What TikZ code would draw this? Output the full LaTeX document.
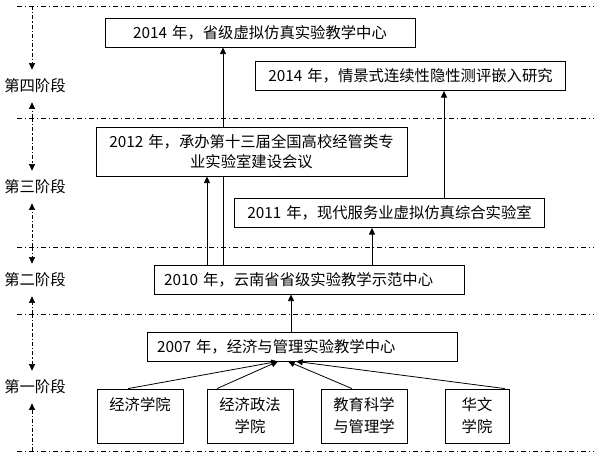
\documentclass[tikz,border=0pt]{standalone}
\usepackage{fontspec}
\setmainfont{Noto Sans CJK SC}
\usetikzlibrary{arrows.meta}

\begin{document}
\begin{tikzpicture}[
      x=0.75pt, y=-0.75pt,
      every node/.style={font=\fontsize{11.5}{15}\selectfont},
      eventbox/.style={
        rectangle, draw, line width=0.6pt, fill=white,
        inner xsep=7.5pt, inner ysep=0pt,
        text width=217.5pt, minimum height=21.75pt, align=center
      },
      unitbox/.style={
        rectangle, draw, line width=0.6pt, fill=white, inner sep=0pt,
        minimum width=64.5pt, minimum height=40.5pt,
        align=center, font=\fontsize{11.5}{16.5}\selectfont
      },
      stagelabel/.style={inner sep=0pt, minimum height=24pt},
      divider/.style={line width=0.5pt, dash pattern=on 4pt off 2pt on 1pt off 2pt},
      arr/.style={-{Triangle[length=5pt,width=4.5pt]}, line width=0.6pt},
      stagearr/.style={-{Triangle[length=5pt,width=4.5pt]}, line width=0.5pt,
        dash pattern=on 3pt off 1.5pt on 1pt off 1.5pt}
    ]
    \useasboundingbox (0,0) rectangle (594,458);

    % ===== Stage dividers =====
    \draw[divider] (17,6) -- (594,6);
    \draw[divider] (17,118) -- (594,118);
    \draw[divider] (17,247) -- (594,247);
    \draw[divider] (17,314) -- (594,314);
    \draw[divider] (17,451) -- (594,451);

    \coordinate (lvl4) at (32,6);
    \coordinate (lvl3) at (32,118);
    \coordinate (lvl2) at (32,247);
    \coordinate (lvl1) at (32,314);
    \coordinate (lvl0) at (32,451);

    % ===== Stage labels =====
    \node[stagelabel] (s4) at (35,86) {第四阶段};
    \node[stagelabel] (s3) at (35,187) {第三阶段};
    \node[stagelabel] (s2) at (35,280) {第二阶段};
    \node[stagelabel] (s1) at (35,387) {第一阶段};

    % ===== Events, stage four down to stage one =====
    \node[eventbox] (n2014a) at (260,32.5) {2014 年，省级虚拟仿真实验教学中心};
    \node[eventbox] (n2014b) at (410.5,76) {2014 年，情景式连续性隐性测评嵌入研究};
    \node[eventbox, inner xsep=4pt, text width=225.25pt, minimum height=36.75pt]
      (n2012) at (251.5,151.5)
      {2012 年，承办第十三届全国高校经管类专\\业实验室建设会议};
    \node[eventbox] (n2011) at (389.5,213) {2011 年，现代服务业虚拟仿真综合实验室};
    \node[eventbox, align=left] (n2010) at (309,279.5) {2010 年，云南省省级实验教学示范中心};
    \node[eventbox, align=left] (n2007) at (302,346.5) {2007 年，经济与管理实验教学中心};

    % ===== Founding schools =====
    \node[unitbox] (jj) at (140,416) {经济学院\\\phantom{学院}};
    \node[unitbox] (jz) at (250,416) {经济政法\\学院};
    \node[unitbox] (jy) at (364,416) {教育科学\\与管理学};
    \node[unitbox, minimum width=48pt] (hw) at (477,416) {华文\\学院};

    % ===== Connector columns =====
    \coordinate (colA) at (207,0);
    \coordinate (colB) at (223,0);
    \coordinate (colC) at (291,0);
    \coordinate (colD) at (372,0);
    \coordinate (colE) at (444,0);

    % ===== Stage arrows =====
    \draw[stagearr] (lvl4) -- (s4.north -| lvl4);
    \draw[stagearr] (lvl3) -- (s4.south -| lvl3);
    \draw[stagearr] (lvl3) -- (s3.north -| lvl3);
    \draw[stagearr] (lvl2) -- (s3.south -| lvl2);
    \draw[stagearr] (lvl2) -- (s2.north -| lvl2);
    \draw[stagearr] (lvl1) -- (s2.south -| lvl1);
    \draw[stagearr] (lvl1) -- (s1.north -| lvl1);
    \draw[stagearr] (lvl0) -- (s1.south -| lvl0);

    % ===== Arrows: schools into the 2007 centre =====
    \draw[arr] ([xshift=-9pt]jj.north) -- ([xshift=-18pt]n2007.south);
    \draw[arr] ([xshift=-24.75pt]jz.north) -- ([xshift=-18pt]n2007.south);
    \draw[arr] ([xshift=-9pt]jy.north) -- ([xshift=-10.5pt]n2007.south);
    \draw[arr] ([xshift=21pt]hw.north) -- ([xshift=-4.5pt]n2007.south);

    % ===== Arrows: growth between the stages =====
    \draw[arr] (n2007.north -| colC) -- (n2010.south -| colC);
    \draw[arr] (n2010.north -| colD) -- (n2011.south -| colD);
    \draw[arr] (n2010.north -| colA) -- (n2012.south -| colA);
    \draw[line width=0.6pt] (n2010.north -| colB) -- (n2012.south -| colB);
    \draw[arr] (n2012.north -| colB) -- (n2014a.south -| colB);
    \draw[arr] (n2011.north -| colE) -- (n2014b.south -| colE);
  \end{tikzpicture}
\end{document}
